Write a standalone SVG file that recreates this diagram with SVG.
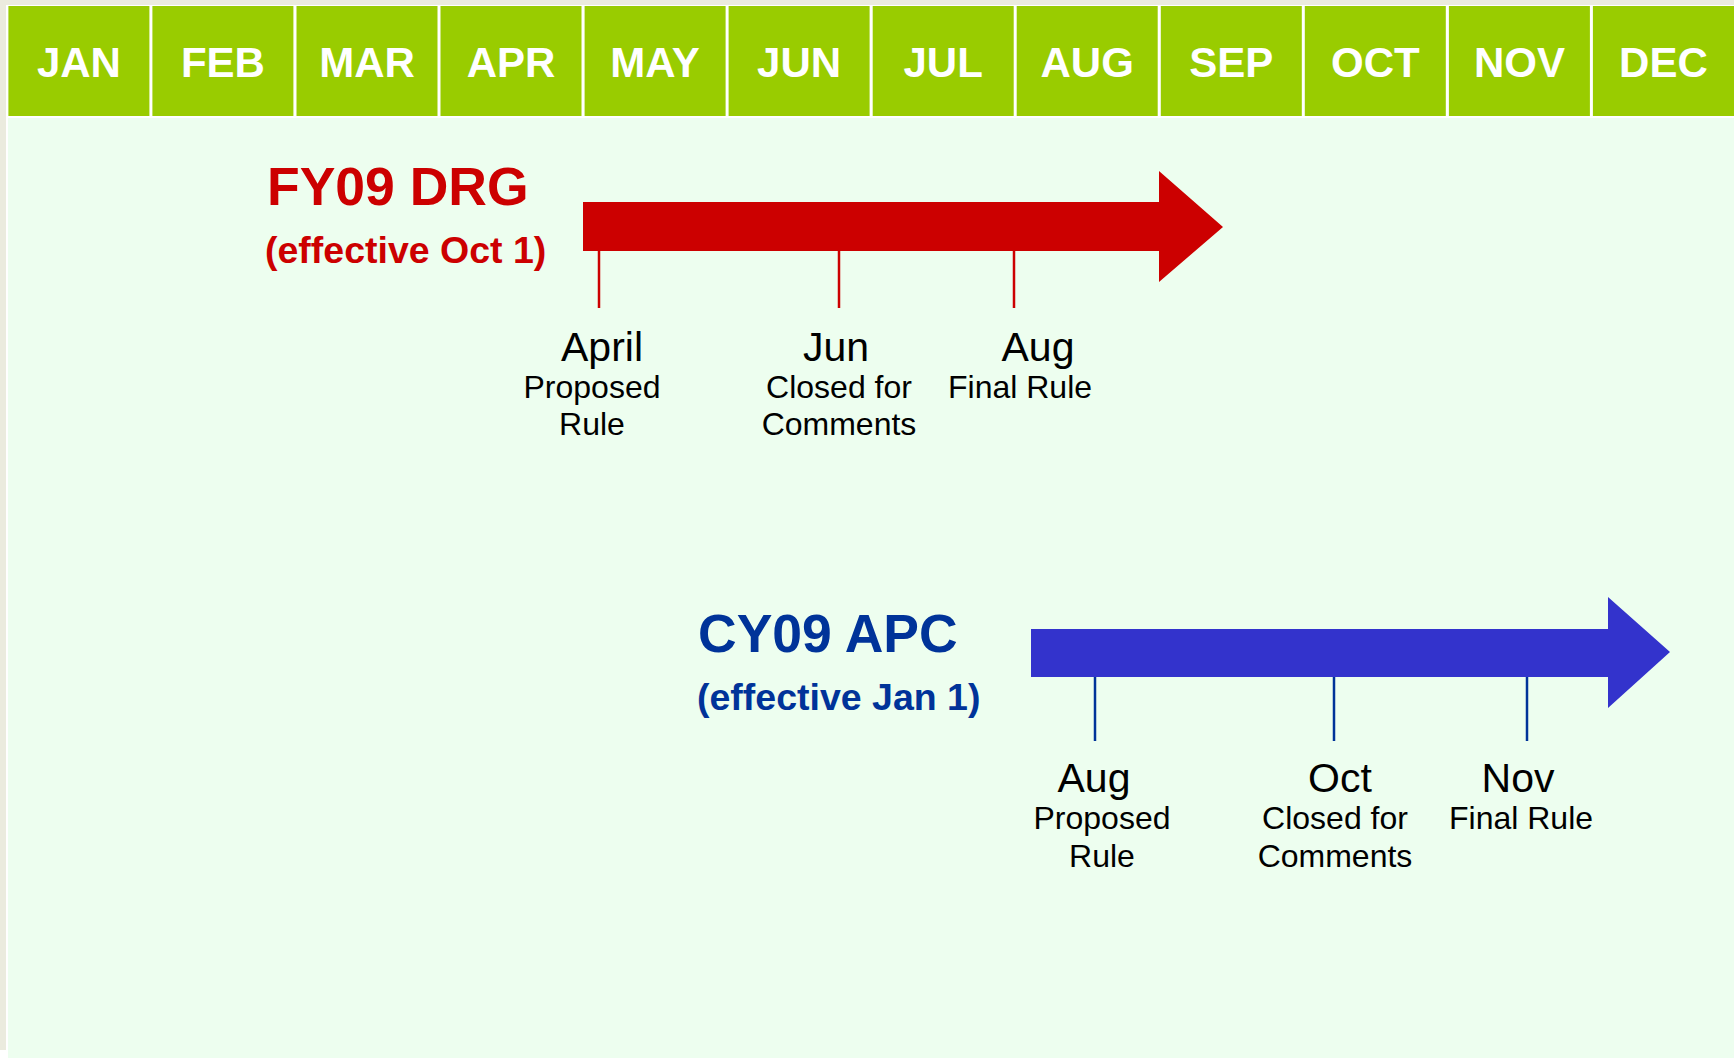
<svg xmlns="http://www.w3.org/2000/svg" width="1734" height="1058" viewBox="0 0 1734 1058">
  <style>
    .month { fill: #99CC00; }
    .mtxt { font-family: "Liberation Sans", Arial, sans-serif; font-weight: bold; font-size: 42px; fill: #FFFFFF; text-anchor: middle; }
    .title { font-family: "Liberation Sans", Arial, sans-serif; font-weight: bold; font-size: 53.5px; }
    .sub { font-family: "Liberation Sans", Arial, sans-serif; font-weight: bold; font-size: 37.5px; }
    .big { font-family: "Liberation Sans", Arial, sans-serif; font-size: 41px; fill: #000000; text-anchor: middle; }
    .small { font-family: "Liberation Sans", Arial, sans-serif; font-size: 32px; fill: #000000; text-anchor: middle; }
    .red { fill: #CC0000; }
    .blue { fill: #003399; }
    .tick-red { stroke: #CC0000; stroke-width: 2.5; }
    .tick-blue { stroke: #003399; stroke-width: 2.5; }
  </style>

  <!-- page and panel -->
  <rect x="0" y="0" width="1734" height="1058" fill="#FFFFFF"/>
  <rect x="0" y="0" width="1734" height="5" fill="#EBEBDE"/>
  <rect x="0" y="0" width="6" height="1050" fill="#EBEBDE"/>
  <rect x="8" y="118" width="1726" height="940" fill="#EDFEEF"/>

  <!-- month header -->
  <g id="months">
    <rect class="month" x="8.4" y="6" width="141" height="110"/>
    <rect class="month" x="152.4" y="6" width="141" height="110"/>
    <rect class="month" x="296.5" y="6" width="141" height="110"/>
    <rect class="month" x="440.5" y="6" width="141" height="110"/>
    <rect class="month" x="584.6" y="6" width="141" height="110"/>
    <rect class="month" x="728.6" y="6" width="141" height="110"/>
    <rect class="month" x="872.7" y="6" width="141" height="110"/>
    <rect class="month" x="1016.7" y="6" width="141" height="110"/>
    <rect class="month" x="1160.8" y="6" width="141" height="110"/>
    <rect class="month" x="1304.8" y="6" width="141" height="110"/>
    <rect class="month" x="1448.9" y="6" width="141" height="110"/>
    <rect class="month" x="1592.9" y="6" width="141.1" height="110"/>
    <text class="mtxt" x="78.9" y="77">JAN</text>
    <text class="mtxt" x="222.9" y="77">FEB</text>
    <text class="mtxt" x="367" y="77">MAR</text>
    <text class="mtxt" x="511" y="77">APR</text>
    <text class="mtxt" x="655.1" y="77">MAY</text>
    <text class="mtxt" x="799.1" y="77">JUN</text>
    <text class="mtxt" x="943.2" y="77">JUL</text>
    <text class="mtxt" x="1087.2" y="77">AUG</text>
    <text class="mtxt" x="1231.3" y="77">SEP</text>
    <text class="mtxt" x="1375.3" y="77">OCT</text>
    <text class="mtxt" x="1519.4" y="77">NOV</text>
    <text class="mtxt" x="1663.4" y="77">DEC</text>
  </g>

  <!-- FY09 DRG timeline -->
  <g id="drg-title">
    <text class="title red" x="267" y="205">FY09 DRG</text>
    <text class="sub red" x="265" y="263">(effective Oct 1)</text>
  </g>
  <g id="drg-arrow">
    <polygon class="red" points="583,202 1159,202 1159,171 1223,227 1159,282 1159,251 583,251"/>
  </g>
  <g id="connectors">
    <line class="tick-red" x1="599" y1="250" x2="599" y2="308"/>
    <line class="tick-red" x1="839" y1="250" x2="839" y2="308"/>
    <line class="tick-red" x1="1014" y1="250" x2="1014" y2="308"/>
    <line class="tick-blue" x1="1095" y1="676" x2="1095" y2="741"/>
    <line class="tick-blue" x1="1334" y1="676" x2="1334" y2="741"/>
    <line class="tick-blue" x1="1527" y1="676" x2="1527" y2="741"/>
  </g>
  <g id="drg-april">
    <text class="big" x="602" y="361">April</text>
    <text class="small" x="592" y="398">Proposed</text>
    <text class="small" x="592" y="435">Rule</text>
  </g>
  <g id="drg-jun">
    <text class="big" x="836" y="361">Jun</text>
    <text class="small" x="839" y="398">Closed for</text>
    <text class="small" x="839" y="435">Comments</text>
  </g>
  <g id="drg-aug">
    <text class="big" x="1038" y="361">Aug</text>
    <text class="small" x="1020" y="398">Final Rule</text>
  </g>

  <!-- CY09 APC timeline -->
  <g id="apc-title">
    <text class="title blue" x="698" y="652">CY09 APC</text>
    <text class="sub blue" x="697" y="710">(effective Jan 1)</text>
  </g>
  <g id="apc-arrow">
    <polygon fill="#3333CC" points="1031,629 1608,629 1608,597 1670,652 1608,708 1608,677 1031,677"/>
  </g>
  <g id="apc-aug">
    <text class="big" x="1094" y="792">Aug</text>
    <text class="small" x="1102" y="829">Proposed</text>
    <text class="small" x="1102" y="867">Rule</text>
  </g>
  <g id="apc-oct">
    <text class="big" x="1340" y="792">Oct</text>
    <text class="small" x="1335" y="829">Closed for</text>
    <text class="small" x="1335" y="867">Comments</text>
  </g>
  <g id="apc-nov">
    <text class="big" x="1518" y="792">Nov</text>
    <text class="small" x="1521" y="829">Final Rule</text>
  </g>
</svg>
